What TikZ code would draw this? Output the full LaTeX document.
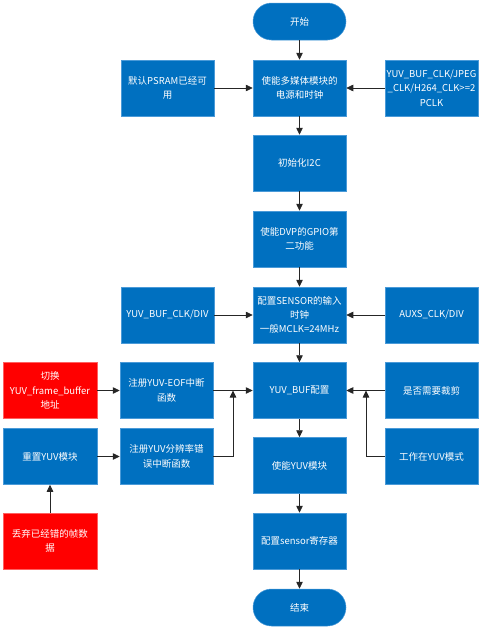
\documentclass[tikz,border=0pt]{standalone}
\usepackage{fontspec}
\setmainfont{Noto Sans CJK SC}
\usetikzlibrary{arrows.meta}
\definecolor{boxblue}{HTML}{0070C0}
\definecolor{boxedge}{HTML}{4A9AD8}
\definecolor{alertred}{HTML}{FF0000}
\definecolor{alertedge}{HTML}{FF6060}
\tikzset{
  x=1pt, y=-1pt,
  stepbox/.style={rectangle, fill=boxblue, draw=boxedge, line width=0.5pt,
    minimum width=93pt, minimum height=56pt, inner sep=1pt,
    text=white, align=center, font=\fontsize{9.5}{14.3}\selectfont},
  alertbox/.style={stepbox, fill=alertred, draw=alertedge, minimum width=94pt},
  terminal/.style={stepbox, minimum height=37pt, rounded corners=18.5pt},
  flow/.style={line width=0.8pt, draw=black!85, -{Triangle[length=7pt,width=6.5pt]}},
}
\begin{document}
\begin{tikzpicture}
\useasboundingbox (0,0) rectangle (481,629);
% main column
\node[terminal] (start) at (299.5,21.5) {开始};
\node[stepbox] (power) at (299.5,88) {使能多媒体模块的\\电源和时钟};
\node[stepbox] (i2c) at (299.5,163) {初始化I2C};
\node[stepbox] (dvp) at (299.5,239) {使能DVP的GPIO第\\二功能};
\node[stepbox] (sensor) at (299.5,315) {配置SENSOR的输入\\时钟\\一般MCLK=24MHz};
\node[stepbox] (bufcfg) at (299.5,390.5) {YUV\_BUF配置};
\node[stepbox] (yuven) at (299.5,465.5) {使能YUV模块};
\node[stepbox] (sensreg) at (299.5,541) {配置sensor寄存器};
\node[terminal] (end) at (299.5,607.5) {结束};
% side inputs
\node[stepbox] (psram) at (167.5,88) {默认PSRAM已经可\\用};
\node[stepbox] (clkcond) at (431.5,88) {YUV\_BUF\_CLK/JPEG\\\_CLK/H264\_CLK>=2\\PCLK};
\node[stepbox] (yuvdiv) at (167.5,315) {YUV\_BUF\_CLK/DIV};
\node[stepbox] (auxs) at (431.5,315) {AUXS\_CLK/DIV};
\node[stepbox] (eof) at (166.5,390.5) {注册YUV-EOF中断\\函数};
\node[stepbox] (reserr) at (166.5,456.5) {注册YUV分辨率错\\误中断函数};
\node[stepbox] (crop) at (431.5,390.5) {是否需要裁剪};
\node[stepbox] (yuvmode) at (431.5,456.5) {工作在YUV模式};
\node[alertbox] (switch) at (50,390.5) {切换\\YUV\_frame\_buffer\\地址};
\node[stepbox, minimum width=94pt] (reset) at (50,456.5) {重置YUV模块};
\node[alertbox] (drop) at (50,541) {丢弃已经错的帧数\\据};
% junction points
\coordinate (jl) at (233,390.5);
\coordinate (jr) at (366,390.5);
% connectors
\draw[flow] (start) -- (power);
\draw[flow] (power) -- (i2c);
\draw[flow] (i2c) -- (dvp);
\draw[flow] (dvp) -- (sensor);
\draw[flow] (sensor) -- (bufcfg);
\draw[flow] (bufcfg) -- (yuven);
\draw[flow] (yuven) -- (sensreg);
\draw[flow] (sensreg) -- (end);
\draw[flow] (psram) -- (power);
\draw[flow] (clkcond) -- (power);
\draw[flow] (yuvdiv) -- (sensor);
\draw[flow] (auxs) -- (sensor);
\draw[flow] (eof) -- (bufcfg);
\draw[flow] (reserr.east) -| (jl);
\draw[flow] (crop) -- (bufcfg);
\draw[flow] (yuvmode.west) -| (jr);
\draw[flow] (switch) -- (eof);
\draw[flow] (reset) -- (reserr);
\draw[flow] (drop) -- (reset);
\end{tikzpicture}
\end{document}
